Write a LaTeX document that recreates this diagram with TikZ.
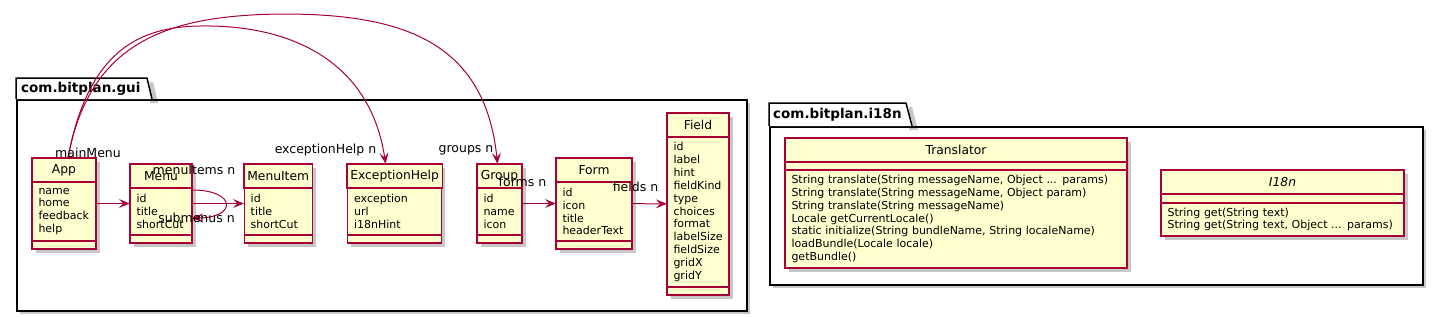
\documentclass[tikz,border=0pt]{standalone}
\usepackage{fontspec}
\setmainfont{DejaVu Sans}
\usetikzlibrary{arrows.meta,positioning,fit,calc}
\definecolor{umlred}{HTML}{A80036}
\definecolor{umlfill}{HTML}{FEFECE}

\begin{document}
\begin{tikzpicture}[x=1pt,y=-1pt,
  pkgline/.style={draw=black,line width=1.5pt,fill=white},
  pkgbody/.style={pkgline,rectangle,inner sep=0pt},
  shade/.style={fill=black,opacity=.22},
  pkgtitle/.style={font=\fontsize{13.5}{16}\selectfont\bfseries,inner sep=0pt},
  part/.style={draw=umlred,fill=umlfill,line width=1.1pt,rectangle,inner ysep=0pt,outer sep=0pt},
  head/.style={part,minimum height=24pt,font=\fontsize{12.3}{14}\selectfont},
  attrs/.style={part,align=left,inner xsep=6.5pt,font=\fontsize{11}{12.9}\selectfont},
  meths/.style={part,minimum height=8pt},
  assoc/.style={->,>={Stealth[length=11pt,width=9pt,inset=4.5pt]},draw=umlred,line width=1pt},
  role/.style={font=\fontsize{12.5}{14}\selectfont,inner sep=0pt}
]
  \useasboundingbox (0,0) rectangle (1437,316);

  % Packages
  \fill[shade] (20,103) rectangle (750,314);
  \node[pkgbody,minimum width=730pt,minimum height=211pt,anchor=north west] (guipkg) at (16,99) {};
  \fill[shade] (150,82) -- (153,82) -- (158,103) -- (150,103) -- cycle;
  \draw[pkgline] (guipkg.north west) -- ++(0,-21) -- ++(131,0) -- ++(5,21);
  \node[pkgtitle,anchor=west] (guitab) at ([shift={(5,-10.5)}]guipkg.north west) {com.bitplan.gui};

  \fill[shade] (773,130) rectangle (1426,288);
  \node[pkgbody,minimum width=653pt,minimum height=158pt,anchor=north west] (i18npkg) at (769,126) {};
  \fill[shade] (909,107) -- (912,107) -- (918,130) -- (909,130) -- cycle;
  \draw[pkgline] (i18npkg.north west) -- ++(0,-23) -- ++(137,0) -- ++(6,23);
  \node[pkgtitle,anchor=west] (i18ntab) at ([shift={(4,-11.5)}]i18npkg.north west) {com.bitplan.i18n};

  % Classes of com.bitplan.gui
  \foreach \n/\x/\y/\w/\t/\a/\h in {
      app/32/158/64/App/{name\\home\\feedback\\help}/59,
      menu/130/164/62/Menu/{id\\title\\shortCut}/47,
      menuitem/244/164/68/MenuItem/{id\\title\\shortCut}/47,
      exc/347/164/94/ExceptionHelp/{exception\\url\\i18nHint}/47,
      group/477/164/45/Group/{id\\name\\icon}/47,
      form/556/158/76/Form/{id\\icon\\title\\headerText}/59,
      field/667/113/62/Field/{id\\label\\hint\\fieldKind\\type\\choices\\format\\labelSize\\fieldSize\\gridX\\gridY}/150} {
    \pgfmathsetmacro\tw{\w-13}
    \fill[shade] (\x+4,\y+4) rectangle (\x+\w+4,\y+32+\h+4);
    \node[head,minimum width=\w pt,anchor=north west] (\n-h) at (\x,\y) {\t};
    \node[attrs,text width=\tw pt,minimum height=\h pt,anchor=north] (\n-a) at (\n-h.south) {\a};
    \node[meths,minimum width=\w pt,minimum height=8pt,anchor=north] (\n-m) at (\n-a.south) {};
    \node[fit=(\n-h)(\n-m),inner sep=0pt] (\n) {};
  }

  % Classes of com.bitplan.i18n
  \fill[shade] (789,142) rectangle (1131,272);
  \node[head,minimum width=342pt,anchor=north west] (translator-h) at (785,138) {Translator};
  \node[meths,minimum width=342pt,minimum height=8pt,anchor=north] (translator-a) at (translator-h.south) {};
  \node[attrs,text width=329pt,minimum height=98pt,anchor=north] (translator-m) at (translator-a.south)
    {String translate(String messageName, Object ... params)\\
     String translate(String messageName, Object param)\\
     String translate(String messageName)\\
     Locale getCurrentLocale()\\
     static initialize(String bundleName, String localeName)\\
     loadBundle(Locale locale)\\
     getBundle()};

  \fill[shade] (1165,174) rectangle (1408,240);
  \node[head,minimum width=243pt,anchor=north west,font=\fontsize{12.3}{14}\selectfont\itshape] (i18n-h) at (1161,170) {I18n};
  \node[meths,minimum width=243pt,minimum height=9pt,anchor=north] (i18n-a) at (i18n-h.south) {};
  \node[attrs,text width=230pt,minimum height=33pt,anchor=north] (i18n-m) at (i18n-a.south)
    {String get(String text)\\
     String get(String text, Object ... params)};

  % Associations
  \draw[assoc] (app) -- (menu);
  \draw[assoc] (menu) -- (menuitem);
  \draw[assoc] ([yshift=-2pt]menu-a.north east) .. controls +(45,0) and +(45,0) .. ([yshift=-30pt]menu-a.north east);
  \draw[assoc] (group) -- (form);
  \draw[assoc] (form) -- (field);
  \draw[assoc] ([xshift=4pt]app.north) .. controls (90,40) and (150,25) .. (210,26)
    .. controls (290,27) and (370,60) .. ([xshift=-9pt]exc.north);
  \draw[assoc] ([xshift=4pt]app.north) .. controls (90,40) and (170,15) .. (283,14)
    .. controls (400,14) and (485,40) .. ([xshift=-2pt]group.north);

  % Role labels
  \node[role] (lbl-main) at (88,153) {mainMenu};
  \node[role] (lbl-exc) at (325.5,150) {exceptionHelp n};
  \node[role] (lbl-groups) at (466,150) {groups n};
  \node[role] (lbl-items) at (194,170) {menuItems n};
  \node[role] (lbl-sub) at (196.5,218) {submenus n};
  \node[role] (lbl-forms) at (522.5,182) {forms n};
  \node[role] (lbl-fields) at (635.5,187) {fields n};
\end{tikzpicture}
\end{document}
